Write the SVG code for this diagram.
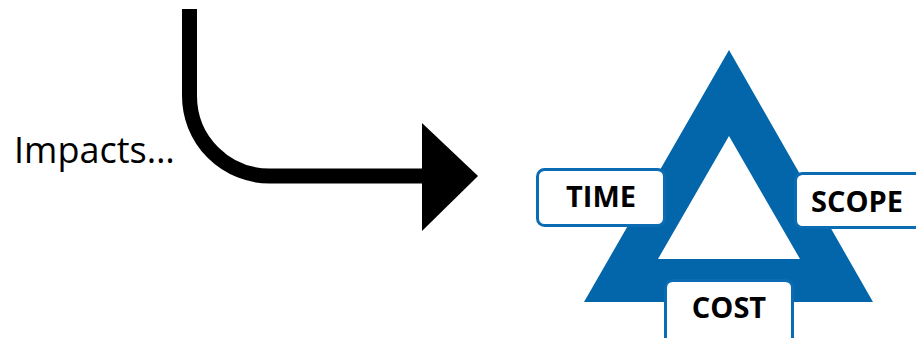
<svg xmlns="http://www.w3.org/2000/svg" width="916" height="338" viewBox="0 0 916 338">
<style>
.box{fill:#fff;stroke:#0b6cb3;stroke-width:3}
.lbl{font-family:"Open Sans","Liberation Sans",sans-serif;font-weight:bold;font-size:29px;fill:#000;text-anchor:middle}
.txt{font-family:"Open Sans","Liberation Sans",sans-serif;font-size:36px;fill:#000}
</style>
<rect width="916" height="338" fill="#fff"/>
<g id="triangle">
<path d="M729,50 L873,302 L584,302 Z M729,136 L658,259 L800,259 Z" fill="#0366aa" fill-rule="evenodd"/>
</g>
<g id="connectors">
<path d="M189.5,9 V96 A80,80 0 0 0 269.5,176 H424" fill="none" stroke="#000" stroke-width="15"/>
<polygon points="422,123 478,176 422,231" fill="#000"/>
</g>
<g id="impacts">
<text class="txt" x="14" y="163">Impacts…</text>
</g>
<g id="time">
<rect class="box" x="537.5" y="169.5" width="127" height="56" rx="7"/>
<text class="lbl" x="601" y="207">TIME</text>
</g>
<g id="scope">
<rect class="box" x="795.5" y="173.5" width="130" height="54" rx="7"/>
<text class="lbl" x="857" y="212">SCOPE</text>
</g>
<g id="cost">
<rect class="box" x="665.5" y="280.5" width="127" height="64" rx="7"/>
<text class="lbl" x="729" y="318">COST</text>
</g>
</svg>
